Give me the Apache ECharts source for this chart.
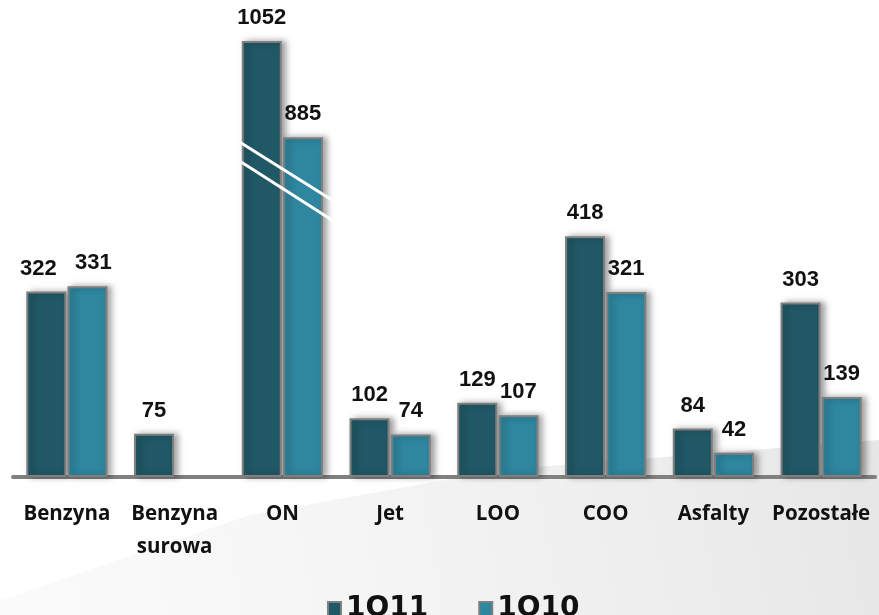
<!DOCTYPE html>
<html>
<head>
<meta charset="utf-8">
<script src="https://cdn.jsdelivr.net/npm/echarts@6/dist/echarts.min.js"></script>
<style>
html,body{margin:0;padding:0;background:#fff;}
#c{width:879px;height:615px;}
</style>
</head>
<body>
<div id="c"></div>
<script>
var categories = ['Benzyna', 'Benzyna\nsurowa', 'ON', 'Jet', 'LOO', 'COO', 'Asfalty', 'Pozostałe'];
var seriesNames = ['1Q11', '1Q10'];
var values1Q11 = [322, 75, 1052, 102, 129, 418, 84, 303];
var values1Q10 = [331, null, 885, 74, 107, 321, 42, 139];
var axisBreak = { start: 520, end: 815 };

var chart = echarts.init(document.getElementById('c'));

var labelFont = '"Liberation Sans Narrow", "Arial Narrow", "Liberation Sans", sans-serif';
var barBase = {
  type: 'bar',
  barWidth: 40,
  barGap: '3%',
  label: {
    show: true,
    position: 'top',
    distance: 12,
    color: '#111',
    fontFamily: labelFont,
    fontWeight: 'bold',
    fontSize: 22
  }
};
function mkItem(color) {
  return {
    color: color,
    borderColor: '#7f7f7f',
    borderWidth: 2,
    shadowColor: 'rgba(0,0,0,0.35)',
    shadowBlur: 6,
    shadowOffsetX: 4,
    shadowOffsetY: 0
  };
}
function withOffsets(vals, idx, dx) {
  return vals.map(function (v, i) {
    if (i === idx) return { value: v, label: { offset: [dx, 0] } };
    return v;
  });
}
var bgPoints = [[0, 600], [250, 515], [500, 470], [879, 440], [879, 615], [0, 615]];

var option = {
  backgroundColor: '#ffffff',
  animation: false,
  graphic: [{
    type: 'polygon',
    z: -10,
    silent: true,
    shape: { points: bgPoints },
    style: {
      fill: new echarts.graphic.LinearGradient(1, 0, 0, 1, [
        { offset: 0, color: 'rgba(222,222,222,0.75)' },
        { offset: 1, color: 'rgba(245,245,245,0.4)' }
      ])
    }
  }],
  grid: { left: 13, right: 4, top: 41, bottom: 138, containLabel: false },
  legend: {
    data: seriesNames,
    left: 322,
    top: 590,
    itemWidth: 13,
    itemHeight: 14,
    itemGap: 50,
    icon: 'rect',
    textStyle: {
      fontFamily: '"DejaVu Sans", sans-serif',
      fontWeight: 'bold',
      fontSize: 28,
      color: '#111',
      padding: [0, 0, 0, 0]
    }
  },
  xAxis: {
    type: 'category',
    data: categories,
    axisLine: { show: true, lineStyle: { color: '#808080', width: 4 } },
    axisTick: { show: false },
    axisLabel: {
      interval: 0,
      margin: 21,
      color: '#111',
      fontFamily: '"Open Sans", sans-serif',
      fontWeight: 'bold',
      fontSize: 20.5,
      lineHeight: 33,
      verticalAlign: 'top'
    }
  },
  yAxis: {
    type: 'value',
    min: 0,
    max: 1052,
    show: false,
    splitLine: { show: false },
    breaks: [{ start: axisBreak.start, end: axisBreak.end, gap: 0 }],
    breakArea: { show: false }
  },
  series: [
    Object.assign({}, barBase, {
      name: seriesNames[0],
      data: withOffsets(values1Q11, 0, -8),
      itemStyle: mkItem('#215866')
    }),
    Object.assign({}, barBase, {
      name: seriesNames[1],
      data: withOffsets(values1Q10, 0, 6),
      itemStyle: mkItem('#2e869f')
    })
  ]
};
chart.setOption(option);

// Break marks on the ON bars
var cx = chart.convertToPixel({ xAxisIndex: 0 }, categories[2]);
var y0 = chart.convertToPixel({ yAxisIndex: 0 }, axisBreak.start);
if (isFinite(cx) && isFinite(y0)) {
  chart.setOption({
    graphic: [
      { type: 'polygon', z: -10, silent: true, shape: { points: bgPoints } },
      { type: 'line', z: 100, silent: true,
        shape: { x1: cx - 42, y1: y0 - 35, x2: cx + 52, y2: y0 + 24 },
        style: { stroke: '#fff', lineWidth: 3 } },
      { type: 'line', z: 100, silent: true,
        shape: { x1: cx - 42, y1: y0 - 16, x2: cx + 55, y2: y0 + 46 },
        style: { stroke: '#fff', lineWidth: 3 } }
    ]
  });
}
</script>
</body>
</html>
